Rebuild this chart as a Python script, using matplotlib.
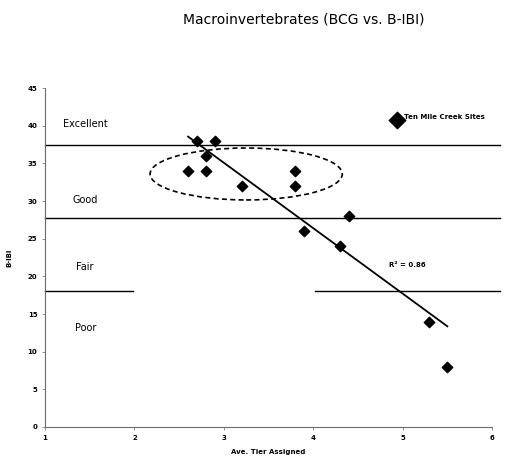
import numpy as np
import matplotlib.pyplot as plt
from matplotlib.patches import Ellipse

# Ten Mile Creek sites: average tier vs. B-IBI score
tier = [2.7, 2.9, 2.8, 2.6, 2.8, 3.2, 3.8, 3.8, 3.9, 4.3, 4.4, 5.3, 5.5]
bibi = [38, 38, 36, 34, 34, 32, 34, 32, 26, 24, 28, 14, 8]

# class boundaries and labels
bounds = [37.5, 27.7, 18.0]
classes = ["Excellent", "Good", "Fair", "Poor"]
class_y = [40.2, 30.2, 21.2, 13.2]

x_ticks = [1, 2, 3, 4, 5, 6]
y_ticks = list(range(0, 50, 5))

fig = plt.figure(figsize=(5.08, 4.61), dpi=100)
ax = fig.add_axes([0.0886, 0.0738, 0.88, 0.735])

ax.set_xlim(1, 6)
ax.set_ylim(0, 45)

# category boundary lines (lower one has a gap in the middle)
ax.plot([1, 6.09], [bounds[0]] * 2, color="black", lw=1.0, clip_on=False)
ax.plot([1, 6.09], [bounds[1]] * 2, color="black", lw=1.0, clip_on=False)
ax.plot([1, 1.98], [bounds[2]] * 2, color="black", lw=1.0, clip_on=False)
ax.plot([4.02, 6.09], [bounds[2]] * 2, color="black", lw=1.0, clip_on=False)

ax.scatter(tier, bibi, marker="D", s=28, color="black", zorder=3)

# linear fit
slope, intercept = np.polyfit(tier, bibi, 1)
xs = np.array([2.6, 5.5])
ax.plot(xs, slope * xs + intercept, color="black", lw=1.3)

ax.text(5.05, 21.5, "R² = 0.86", fontsize=5, fontweight="bold", ha="center", va="center")

for name, y in zip(classes, class_y):
    ax.text(1.45, y, name, fontsize=7, ha="center", va="center")

# dashed ellipse around the upper cluster
ax.add_patch(Ellipse((3.25, 33.6), 2.15, 6.9, fill=False, ls=(0, (3, 2)), lw=1.2, color="black"))

# legend entry
ax.scatter([4.94], [40.8], marker="D", s=70, color="black", clip_on=False)
ax.text(5.02, 41.2, "Ten Mile Creek Sites", fontsize=5, fontweight="bold", ha="left", va="center")

ax.set_xticks(x_ticks)
ax.set_yticks(y_ticks)
ax.tick_params(labelsize=5, length=2, width=0.6, color="gray")
for lab in ax.get_xticklabels() + ax.get_yticklabels():
    lab.set_fontweight("bold")

ax.spines["top"].set_visible(False)
ax.spines["right"].set_visible(False)
for s in ["left", "bottom"]:
    ax.spines[s].set_linestyle((0, (2, 1)))
    ax.spines[s].set_color("dimgray")
    ax.spines[s].set_linewidth(0.8)

ax.set_xlabel("Ave. Tier Assigned", fontsize=5, fontweight="bold", labelpad=6)
ax.set_ylabel("B-IBI", fontsize=5, fontweight="bold", labelpad=11)

fig.text(0.598, 0.957, "Macroinvertebrates (BCG vs. B-IBI)", fontsize=10, ha="center", va="center")

fig.savefig("out.png", dpi=100)
